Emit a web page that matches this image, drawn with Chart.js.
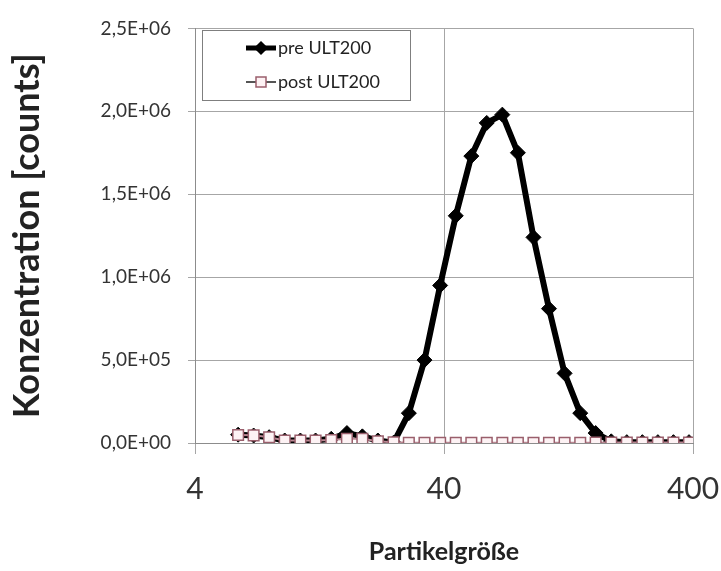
<!DOCTYPE html>
<html>
<head>
<meta charset="utf-8">
<script src="https://cdn.jsdelivr.net/npm/chart.js@4.4.0/dist/chart.umd.min.js"></script>
<style>
  body { margin: 0; background: #fff; }
  canvas { display: block; }
</style>
</head>
<body>
<canvas id="size-graph" width="721" height="571"></canvas>
<script>
// particle size channels
const sizes = [5.96, 6.88, 7.94, 9.17, 10.6, 12.2, 14.1, 16.3, 18.8, 21.7,
               25.1, 28.9, 33.4, 38.6, 44.6, 51.5, 59.4, 68.6, 79.2, 91.5,
               105.6, 122, 141, 162.6, 187.8, 216.9, 250.4, 289.1, 333.8, 385.5];

const preValues = [50000, 45000, 35000, 15000, 15000, 15000, 25000, 60000, 40000, 15000,
                   2000, 180000, 500000, 950000, 1370000, 1730000, 1930000, 1980000, 1750000, 1240000,
                   810000, 420000, 180000, 60000, 10000, 5000, 5000, 5000, 5000, 5000];

const postValues = [48000, 46000, 35000, 15000, 15000, 15000, 18000, 25000, 25000, 10000,
                    4000, 1000, 1000, 1000, 1000, 1000, 1000, 1000, 1000, 1000,
                    1000, 1000, 1000, 2000, 3000, 3000, 3000, 3000, 3000, 3000];

const seriesNames = ["pre ULT200", "post ULT200"];
const xTicks = [4, 40, 400];
const yTickLabels = ["0,0E+00", "5,0E+05", "1,0E+06", "1,5E+06", "2,0E+06", "2,5E+06"];

const FONT = "Lato, 'Open Sans', sans-serif";

// legend box sitting inside the plot, top left
const boxLegend = {
    id: "boxLegend",
    afterDraw(chart) {
        const ctx = chart.ctx;
        const x0 = 202, y0 = 30, w = 208, h = 70;
        ctx.save();
        ctx.fillStyle = "#fff";
        ctx.fillRect(x0, y0, w, h);
        ctx.strokeStyle = "#7f7f7f";
        ctx.lineWidth = 1;
        ctx.strokeRect(x0 + 0.5, y0 + 0.5, w, h);

        const rows = [48, 82];
        chart.data.datasets.forEach((ds) => {
            const y = rows[ds.legendRow];
            ctx.strokeStyle = ds.legendRow === 0 ? "#000" : "#555";
            ctx.lineWidth = ds.legendRow === 0 ? 5 : 2;
            ctx.beginPath();
            ctx.moveTo(246, y);
            ctx.lineTo(276, y);
            ctx.stroke();
            ctx.fillStyle = ds.pointBackgroundColor;
            ctx.strokeStyle = ds.pointBorderColor;
            ctx.lineWidth = 1.5;
            ctx.beginPath();
            if (ds.pointStyle === "rect") {
                ctx.rect(261 - 5, y - 5, 10, 10);
            } else {
                ctx.moveTo(261, y - 6); ctx.lineTo(267, y);
                ctx.lineTo(261, y + 6); ctx.lineTo(255, y);
                ctx.closePath();
            }
            ctx.fill();
            ctx.stroke();
            ctx.fillStyle = "#222";
            ctx.font = "18px " + FONT;
            ctx.textBaseline = "middle";
            ctx.textAlign = "left";
            ctx.fillText(ds.label, 278, y);
        });
        ctx.restore();
    }
};

new Chart("size-graph", {
    type: "line",
    data: {
        labels: sizes,
        datasets: [
            {
                label: seriesNames[1],
                legendRow: 1,
                data: sizes.map((s, i) => ({ x: s, y: postValues[i] })),
                borderColor: "#b98893",
                borderWidth: 2,
                pointStyle: "rect",
                pointRadius: 7.5,
                pointBackgroundColor: "#fdf2f4",
                pointBorderColor: "#9a5f6c",
                pointBorderWidth: 1.5,
                tension: 0,
                order: 0
            },
            {
                label: seriesNames[0],
                legendRow: 0,
                data: sizes.map((s, i) => ({ x: s, y: preValues[i] })),
                borderColor: "#000",
                borderWidth: 6,
                pointStyle: "rectRot",
                pointRadius: 7.5,
                pointBackgroundColor: "#000",
                pointBorderColor: "#000",
                pointBorderWidth: 1,
                tension: 0,
                order: 1
            }
        ]
    },
    options: {
        responsive: false,
        animation: false,
        layout: { padding: { left: 0, right: 28, top: 24, bottom: 0 } },
        plugins: {
            legend: { display: false },
            tooltip: { enabled: false }
        },
        scales: {
            x: {
                type: "logarithmic",
                min: 4,
                max: 400,
                afterBuildTicks: (scale) => { scale.ticks = xTicks.map(v => ({ value: v })); },
                afterFit: (scale) => {
                    scale.height = 128;
                    scale.paddingLeft = 0;
                    scale.paddingRight = 0;
                },
                ticks: {
                    autoSkip: false,
                    maxRotation: 0,
                    padding: 17,
                    color: "#333",
                    font: { family: FONT, size: 30 },
                    callback: (v) => String(v)
                },
                grid: { color: "#a6a6a6", lineWidth: 1, tickLength: 11 },
                border: { color: "#8c8c8c" },
                title: {
                    display: true,
                    text: "Partikelgröße",
                    color: "#222",
                    font: { family: FONT, size: 25, weight: "bold" },
                    padding: { top: 0, bottom: 4 }
                }
            },
            y: {
                min: 0,
                max: 2500000,
                afterFit: (scale) => { scale.width = 195; },
                ticks: {
                    stepSize: 500000,
                    padding: 17,
                    color: "#333",
                    font: { family: FONT, size: 19 },
                    callback: (v, i) => yTickLabels[i]
                },
                grid: { color: "#a6a6a6", lineWidth: 1, tickLength: 7 },
                border: { color: "#8c8c8c" },
                title: {
                    display: true,
                    text: "Konzentration [counts]",
                    color: "#222",
                    font: { family: FONT, size: 36, weight: "bold" },
                    padding: { top: 6, bottom: 0 }
                }
            }
        }
    },
    plugins: [boxLegend]
});
</script>
</body>
</html>
